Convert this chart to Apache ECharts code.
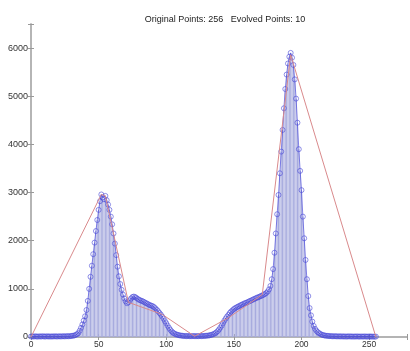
<!DOCTYPE html>
<html>
<head>
<meta charset="utf-8">
<script src="https://cdn.jsdelivr.net/npm/echarts@6/dist/echarts.min.js"></script>
<style>
html,body{margin:0;padding:0;background:#fff;}
#chart{width:410px;height:351px;}
</style>
</head>
<body>
<div id="chart"></div>
<script>
// Original histogram counts, bins 0..255
const countsLowTail = [10,12,9,14,11,8,13,10,12,15,9,11,14,10,12,9,13,11,15,10,12,14,11,13,16,12,15,18,14,19,22,26,32,42,58,82];
const countsLeftPeak = [130,190,260,340,430,560,750,1000,1250,1480,1720,1960,2200,2430,2640,2820,2960,2900,2860,2930,2840,2750,2640,2500,2340,2150,1940,1700,1460,1260,1100,980,880,800,740,700,720];
const countsShoulder = [760,800,830,840,830,810,790,770,760,750,735,720,705,690,675,660,650,640,620,595,565,535,500,465,425,380,330,285,235,190,150,115,90,72,58,48,40,34,29,25];
const countsTrough = [22,20,18,21,17,19,16,20,18,15,19,17,21,18,20,22,24,27];
const countsRise = [30,35,42,50,60,75,95,120,155,195,240,290,340,385,425,460,500,530,555,580,600,615,630,645,660,672,688,700,710,722,736,750,762,775,790,802,815,826,838,850];
const countsRightPeak = [865,878,895,915,945,990,1060,1200,1410,1750,2150,2550,2950,3400,3850,4300,4750,5150,5450,5680,5820,5900,5800,5650,5350,4950,4450,3900,3450,3050,2500,2050,1600,1200,850,600,450,320,230,170,130,100,80,62,48];
const countsHighTail = [38,32,27,24,21,19,17,15,14,16,13,12,14,11,13,10,12,9,11,13,10,12,8,11,9,12,10,8,11,9,10,12,8,9,11,10,8,9,7,8];
const counts = [].concat(countsLowTail, countsLeftPeak, countsShoulder, countsTrough, countsRise, countsRightPeak, countsHighTail);

// Evolved polyline (10 points)
const evolvedX = [0, 52, 55, 72, 97, 121, 146, 171, 192, 255];
const evolvedY = [0, 2960, 2930, 720, 470, 15, 400, 880, 5860, 0];

const xTicks = [0, 50, 100, 150, 200, 250];
const yTicks = [0, 1000, 2000, 3000, 4000, 5000, 6000];
const titleText = 'Original Points: 256   Evolved Points: 10';

const histData = counts.map((v, i) => [i, v]);
const evolvedData = evolvedX.map((x, i) => [x, evolvedY[i]]);

const FONT = 'Liberation Sans, Arial, sans-serif';
const AX = '#b0b0b0';
const chart = echarts.init(document.getElementById('chart'), null, {renderer: 'canvas'});
const baseX = {
  type: 'value', min: 0, max: 278, interval: 50,
  axisLine: {show: true, lineStyle: {color: AX, width: 1.5}},
  axisTick: {show: true, inside: true, length: 3, lineStyle: {color: '#999'}},
  splitLine: {show: false}
};
const baseY = {
  type: 'value', min: 0, max: 6500, interval: 1000,
  axisLine: {show: true, lineStyle: {color: AX, width: 1.5}},
  axisTick: {show: true, inside: true, length: 3, lineStyle: {color: '#999'}},
  splitLine: {show: false}
};
chart.setOption({
  animation: false,
  backgroundColor: '#fff',
  title: {
    text: titleText, left: 220, textAlign: 'center', top: 10,
    textStyle: {fontFamily: FONT, fontSize: 9, fontWeight: 'normal', color: '#222'}
  },
  grid: {left: 31, right: 1, top: 24, bottom: 14, containLabel: false},
  xAxis: [
    Object.assign({}, baseX, {position: 'bottom',
      axisLabel: {show: true, margin: 3, fontFamily: FONT, fontSize: 8.5, color: '#333',
        formatter: v => xTicks.includes(v) ? String(v) : ''}}),
    Object.assign({}, baseX, {position: 'top', axisLabel: {show: false}})
  ],
  yAxis: [
    Object.assign({}, baseY, {position: 'left',
      axisLabel: {show: true, margin: 3, fontFamily: FONT, fontSize: 9, color: '#333',
        formatter: v => yTicks.includes(v) ? String(v) : ''}}),
    Object.assign({}, baseY, {position: 'right', axisLabel: {show: false}})
  ],
  series: [
    {
      type: 'bar', data: histData, xAxisIndex: 0, yAxisIndex: 0,
      barWidth: 1.05, itemStyle: {color: '#a7abde'}, silent: true
    },
    {
      type: 'line', data: histData, xAxisIndex: 0, yAxisIndex: 0,
      symbol: 'circle', symbolSize: 5, showAllSymbol: true,
      lineStyle: {color: '#4444d8', width: 0.8, opacity: 0.85},
      itemStyle: {color: 'rgba(0,0,0,0)', borderColor: 'rgba(70,70,215,0.75)', borderWidth: 0.8},
      silent: true
    },
    {
      type: 'line', data: evolvedData, xAxisIndex: 0, yAxisIndex: 0,
      symbol: 'none', lineStyle: {color: '#d98a8c', width: 1}, silent: true, z: 5
    }
  ]
});
</script>
</body>
</html>
